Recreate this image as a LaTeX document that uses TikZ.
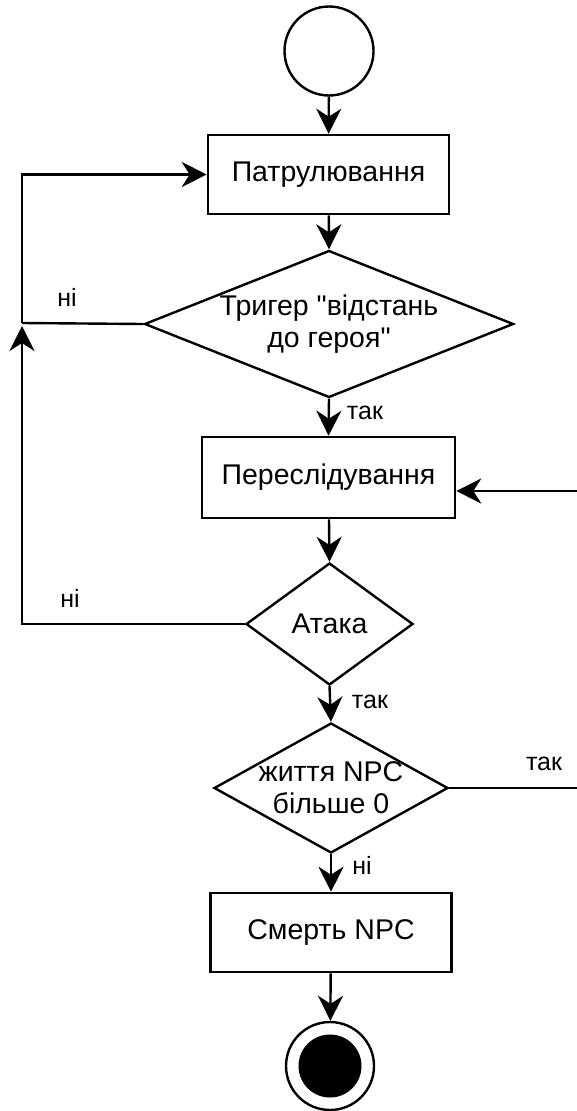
\documentclass[tikz,border=0pt]{standalone}
\usepackage{fontspec}
\setmainfont{Liberation Sans}
\usetikzlibrary{arrows.meta,shapes.geometric}
\begin{document}
\begin{tikzpicture}[x=1pt,y=-1pt,
  txt/.style={font=\fontsize{28.5}{32}\selectfont, inner sep=0pt, align=center},
  box/.style={draw, line width=2.6pt, minimum width=241pt, minimum height=79pt, inner sep=0pt, txt},
  dia/.style={draw, diamond, line width=2.4pt, inner sep=0pt},
  ln/.style={line width=2.4pt},
  arr/.style={ln, -{Stealth[length=25pt,width=25pt,inset=8pt]}},
  lbl/.style={font=\fontsize{25}{28}\selectfont, inner sep=0pt},
]
\useasboundingbox (0,0) rectangle (576,1111);
% nodes
\node[circle, draw, line width=2.4pt, minimum size=89pt, inner sep=0pt] (start) at (329,51) {};
\node[box] (b1) at (328.5,174.5) {Патрулювання};
\node[dia, minimum width=369pt, minimum height=147pt,
      label={[txt]center:Тригер \textquotedbl відстань\\до героя\textquotedbl}] (d1) at (329,324) {};
\node[box, minimum width=253pt, minimum height=81pt] (b2) at (328.5,477.5) {Переслідування};
\node[dia, minimum width=167pt, minimum height=122pt,
      label={[txt]center:Атака}] (d2) at (329.5,624) {};
\node[dia, minimum width=234pt, minimum height=130pt,
      label={[txt]center:життя NPC\\більше 0}] (d3) at (331,788) {};
\node[box] (b3) at (331,932.5) {Смерть NPC};
\node[circle, draw, line width=2.4pt, minimum size=88pt, inner sep=0pt,
      path picture={\fill (path picture bounding box.center) circle (31.5pt);}] (end) at (330,1066) {};
% helper coordinates
\coordinate (j) at (22,323);
\coordinate (jt) at (22,326);
\coordinate (r) at (610,491);
% connectors
\draw[arr] (start) -- (b1);
\draw[arr] (b1) -- (d1.north);
\draw[ln] (d1.west) -- (j);
\draw[arr] (j) |- (b1.west);
\draw[arr] (d1.south) -- (b2.north);
\draw[arr] (b2) -- (d2.north);
\draw[arr] (d2.west) -| (jt);
\draw[arr] (d2.south) -- (d3.north);
\draw[arr] (d3.east) -| (r) -- (b2.east |- r);
\draw[arr] (d3.south) -- (b3.north);
\draw[arr] (b3) -- (end);
% labels
\node[lbl] (l1) at (67,297) {ні};
\node[lbl] (l2) at (365,413) {так};
\node[lbl] (l3) at (70,598) {ні};
\node[lbl] (l4) at (370,702) {так};
\node[lbl] (l5) at (544,764) {так};
\node[lbl] (l6) at (362,865) {ні};
\end{tikzpicture}
\end{document}
